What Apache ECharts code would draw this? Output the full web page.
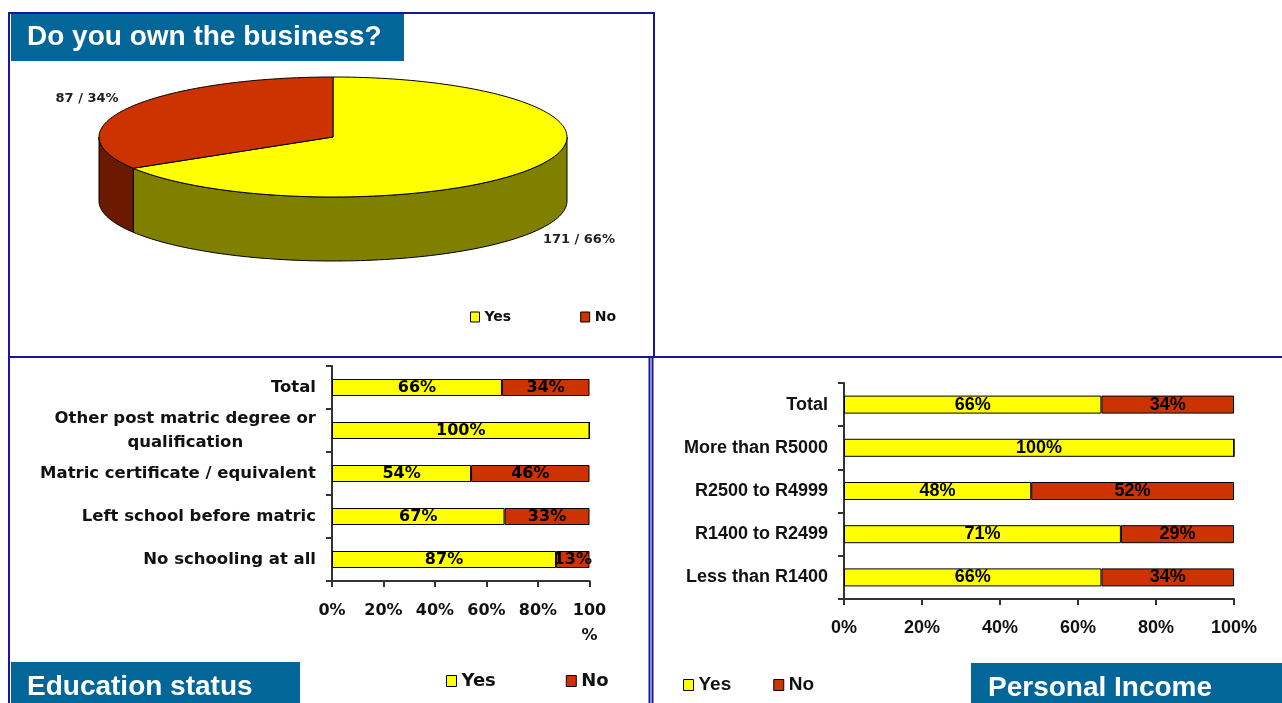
<!DOCTYPE html>
<html>
<head>
<meta charset="utf-8">
<title>Business ownership</title>
<script src="https://cdn.jsdelivr.net/npm/echarts@6/dist/echarts.min.js"></script>
<style>
  html, body { margin: 0; padding: 0; background: #ffffff; }
  #chart { width: 1282px; height: 703px; }
</style>
</head>
<body>
<div id="chart"></div>
<script>
// ---- data ----
const pieNames = ['Yes', 'No'];
const pieCounts = [171, 87];

const eduCategories = [
  'Total',
  'Other post matric degree or qualification',
  'Matric certificate / equivalent',
  'Left school before matric',
  'No schooling at all'
];
const eduYes = [66, 100, 54, 67, 87];
const eduNo = [34, 0, 46, 33, 13];

const incomeCategories = [
  'Total',
  'More than R5000',
  'R2500 to R4999',
  'R1400 to R2499',
  'Less than R1400'
];
const incomeYes = [66, 100, 48, 71, 66];
const incomeNo = [34, 0, 52, 29, 34];

// ---- styles ----
const YES = '#FFFF00';
const NO = '#CC3300';
const PIE_SIDE = ['#808000', '#6B1A00'];
const PIE_TOP = [YES, NO];
const BORDER = '#1616A0';
const BOX = '#036699';
const DV = '"DejaVu Sans", sans-serif';
const AR = '"Liberation Sans", Arial, sans-serif';
const AXIS = '#333333';

// 3D pie geometry (top ellipse, wall depth, label ellipse)
const PIE = { cx: 333, cy: 137, rx: 234, ry: 60, depth: 64, lrx: 282, lry: 79 };

const chart = echarts.init(document.getElementById('chart'));

// wraps long category names into centred lines
function wrapLabel(text, maxChars) {
  const words = text.split(' ');
  const lines = [];
  let cur = '';
  words.forEach(function (w) {
    const next = cur ? cur + ' ' + w : w;
    if (next.length > maxChars && cur) { lines.push(cur); cur = w; } else { cur = next; }
  });
  if (cur) lines.push(cur);
  return lines.map(function (l) { return '{c|' + l + '}'; }).join('\n');
}

function renderPieSlice(params, api) {
  const i = params.dataIndex;
  const total = pieCounts.reduce(function (a, b) { return a + b; }, 0);
  const before = pieCounts.slice(0, i).reduce(function (a, b) { return a + b; }, 0);
  const value = api.value(0);
  const a0 = Math.PI / 2 - before / total * 2 * Math.PI;
  const a1 = Math.PI / 2 - (before + value) / total * 2 * Math.PI;

  function pt(a, dy) {
    return [PIE.cx + PIE.rx * Math.cos(a), PIE.cy - PIE.ry * Math.sin(a) + dy];
  }
  function arc(from, to, dy) {
    const n = Math.max(2, Math.ceil(Math.abs(to - from) / (Math.PI / 120)));
    const pts = [];
    for (let k = 0; k <= n; k++) pts.push(pt(from + (to - from) * k / n, dy));
    return pts;
  }

  const children = [];
  // visible outer wall: the part of the slice on the front half of the ellipse
  [[-3 * Math.PI, -2 * Math.PI], [-Math.PI, 0], [Math.PI, 2 * Math.PI]].forEach(function (r) {
    const s = Math.max(a1, r[0]);
    const e = Math.min(a0, r[1]);
    if (s < e) {
      children.push({
        type: 'polygon',
        z2: 1,
        shape: { points: arc(s, e, 0).concat(arc(e, s, PIE.depth)) },
        style: { fill: PIE_SIDE[i], stroke: '#000', lineWidth: 1 }
      });
    }
  });
  // top face
  children.push({
    type: 'polygon',
    z2: 5,
    shape: { points: [[PIE.cx, PIE.cy]].concat(arc(a0, a1, 0)) },
    style: { fill: PIE_TOP[i], stroke: '#000', lineWidth: 1 }
  });
  // value label
  const mid = (a0 + a1) / 2;
  const lx = PIE.cx + PIE.lrx * Math.cos(mid);
  const ly = PIE.cy - PIE.lry * Math.sin(mid) + (Math.sin(mid) < 0 ? PIE.depth : 0);
  children.push({
    type: 'text',
    z2: 10,
    x: lx,
    y: ly,
    style: {
      text: value + ' / ' + Math.round(value / total * 100) + '%',
      fill: '#222',
      fontFamily: DV,
      fontSize: 13,
      fontWeight: 'bold',
      align: 'center',
      verticalAlign: 'middle'
    }
  });
  return { type: 'group', children: children };
}

function pctLabel(family, size) {
  return {
    show: true,
    position: 'inside',
    formatter: function (p) { return p.value ? p.value + '%' : ''; },
    color: '#000',
    fontFamily: family,
    fontSize: size,
    fontWeight: 'bold'
  };
}

function legendData() {
  return [
    { name: 'Yes', itemStyle: { color: YES, borderColor: '#000', borderWidth: 1 } },
    { name: 'No', itemStyle: { color: NO, borderColor: '#000', borderWidth: 1 } }
  ];
}

function titleStyle() {
  return { color: '#ffffff', fontFamily: AR, fontSize: 28, fontWeight: 'bold', lineHeight: 30 };
}

function line(x1, y1, x2, y2, w) {
  return { type: 'line', z: 2, shape: { x1: x1, y1: y1, x2: x2, y2: y2 }, style: { stroke: BORDER, lineWidth: w || 2 } };
}

const option = {
  animation: false,
  backgroundColor: '#ffffff',
  title: [
    { text: 'Do you own the business?', left: 27, top: 22, padding: 0, textStyle: titleStyle() },
    { text: 'Education status', left: 27, top: 672, padding: 0, textStyle: titleStyle() },
    { text: 'Personal Income', left: 988, top: 673, padding: 0, textStyle: titleStyle() }
  ],
  graphic: [
    { type: 'rect', z: 1, shape: { x: 11, y: 14, width: 393, height: 47 }, style: { fill: BOX } },
    { type: 'rect', z: 1, shape: { x: 11, y: 662, width: 289, height: 41 }, style: { fill: BOX } },
    { type: 'rect', z: 1, shape: { x: 971, y: 663, width: 311, height: 40 }, style: { fill: BOX } },
    line(9, 13, 655, 13),
    line(9, 12, 9, 703),
    line(654, 12, 654, 357),
    line(8, 357, 1282, 357),
    line(649.5, 357, 649.5, 703),
    line(652.5, 357, 652.5, 703)
  ],
  legend: [
    {
      left: 470, top: 309, padding: 0, itemWidth: 9, itemHeight: 10, itemGap: 69,
      icon: 'rect', selectedMode: false,
      textStyle: { fontFamily: DV, fontSize: 14, fontWeight: 'bold', color: '#111', lineHeight: 16 },
      data: legendData()
    },
    {
      left: 446, top: 671, padding: 0, itemWidth: 10, itemHeight: 11, itemGap: 70,
      icon: 'rect', selectedMode: false,
      textStyle: { fontFamily: DV, fontSize: 18, fontWeight: 'bold', color: '#111', lineHeight: 20 },
      data: legendData()
    },
    {
      left: 683, top: 675, padding: 0, itemWidth: 10, itemHeight: 11, itemGap: 42,
      icon: 'rect', selectedMode: false,
      textStyle: { fontFamily: AR, fontSize: 19, fontWeight: 'bold', color: '#111', lineHeight: 20 },
      data: legendData()
    }
  ],
  grid: [
    { left: 332, top: 366, width: 257.5, height: 215 },
    { left: 844, top: 383, width: 390, height: 216 }
  ],
  xAxis: [
    {
      type: 'value', gridIndex: 0, min: 0, max: 100, interval: 20,
      axisLine: { show: true, lineStyle: { color: AXIS, width: 2 } },
      axisTick: { show: true, length: 6, lineStyle: { color: AXIS, width: 2 } },
      splitLine: { show: false },
      axisLabel: {
        margin: 17.5,
        formatter: function (v) { return v === 100 ? '100\n%' : v + '%'; },
        fontFamily: DV, fontSize: 16, fontWeight: 'bold', color: '#111', lineHeight: 25
      }
    },
    {
      type: 'value', gridIndex: 1, min: 0, max: 100, interval: 20,
      axisLine: { show: true, lineStyle: { color: AXIS, width: 2 } },
      axisTick: { show: true, length: 6, lineStyle: { color: AXIS, width: 2 } },
      splitLine: { show: false },
      axisLabel: {
        margin: 18,
        formatter: '{value}%',
        fontFamily: AR, fontSize: 18, fontWeight: 'bold', color: '#111', lineHeight: 22
      }
    }
  ],
  yAxis: [
    {
      type: 'category', gridIndex: 0, data: eduCategories, inverse: true,
      axisLine: { show: true, lineStyle: { color: AXIS, width: 2 } },
      axisTick: { show: true, length: 6, lineStyle: { color: AXIS, width: 2 } },
      axisLabel: {
        margin: 16,
        formatter: function (v) { return wrapLabel(v, 32); },
        rich: {
          c: { align: 'center', fontFamily: DV, fontSize: 16.5, fontWeight: 'bold', color: '#111', lineHeight: 24 }
        }
      }
    },
    {
      type: 'category', gridIndex: 1, data: incomeCategories, inverse: true,
      axisLine: { show: true, lineStyle: { color: AXIS, width: 2 } },
      axisTick: { show: true, length: 6, lineStyle: { color: AXIS, width: 2 } },
      axisLabel: {
        margin: 16,
        fontFamily: AR, fontSize: 18, fontWeight: 'bold', color: '#111'
      }
    }
  ],
  series: [
    {
      type: 'custom',
      name: 'Do you own the business?',
      coordinateSystem: 'none',
      silent: true,
      data: pieCounts.map(function (v, i) { return { name: pieNames[i], value: v }; }),
      renderItem: renderPieSlice
    },
    {
      type: 'bar', name: 'Yes', xAxisIndex: 0, yAxisIndex: 0, stack: 'edu', barWidth: 17,
      data: eduYes, silent: true,
      itemStyle: { color: YES, borderColor: '#000', borderWidth: 1 },
      label: pctLabel(DV, 16)
    },
    {
      type: 'bar', name: 'No', xAxisIndex: 0, yAxisIndex: 0, stack: 'edu', barWidth: 17,
      data: eduNo, silent: true,
      itemStyle: { color: NO, borderColor: '#000', borderWidth: 1 },
      label: pctLabel(DV, 16)
    },
    {
      type: 'bar', name: 'Yes', xAxisIndex: 1, yAxisIndex: 1, stack: 'income', barWidth: 18,
      data: incomeYes, silent: true,
      itemStyle: { color: YES, borderColor: '#000', borderWidth: 1 },
      label: pctLabel(AR, 18)
    },
    {
      type: 'bar', name: 'No', xAxisIndex: 1, yAxisIndex: 1, stack: 'income', barWidth: 18,
      data: incomeNo, silent: true,
      itemStyle: { color: NO, borderColor: '#000', borderWidth: 1 },
      label: pctLabel(AR, 18)
    }
  ]
};

chart.setOption(option);
</script>
</body>
</html>
